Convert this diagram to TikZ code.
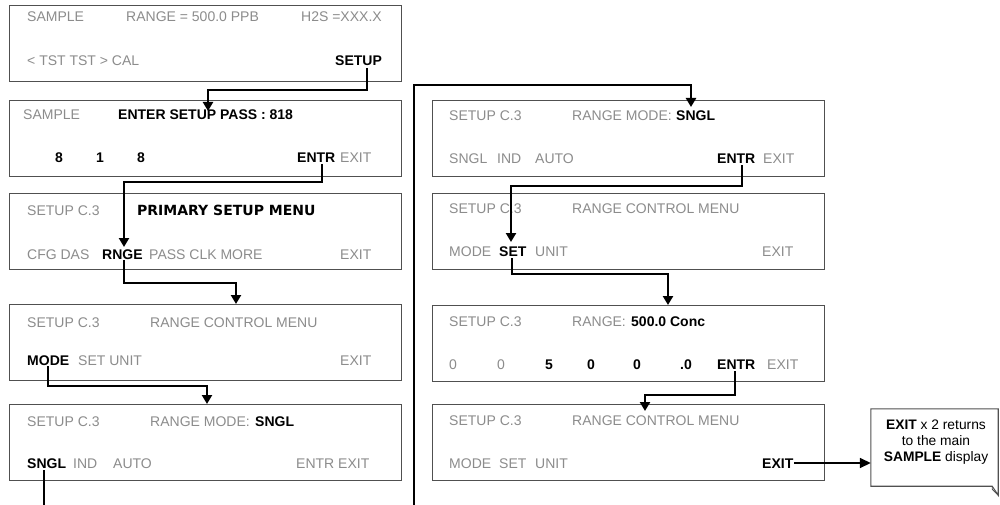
\documentclass[tikz,border=0pt]{standalone}
\usepackage{fontspec}
\setmainfont{Liberation Sans}
\newfontfamily\dvbold{DejaVu Sans}
\usetikzlibrary{arrows.meta}
\definecolor{tg}{RGB}{140,140,140}
\definecolor{bx}{RGB}{80,80,80}
\begin{document}
\begin{tikzpicture}[x=1pt,y=-1pt,
  font=\fontsize{14}{16}\selectfont,
  scr/.style={draw=bx, line width=1.1pt, anchor=north west, minimum width=392pt, minimum height=76pt, inner sep=0pt},
  g/.style={anchor=base west, inner sep=0pt, text=tg},
  b/.style={anchor=base west, inner sep=0pt, text=black, font=\fontsize{14}{16}\selectfont\bfseries},
  conn/.style={line width=2.6pt, -{Triangle[length=9pt,width=10pt]}},
  line/.style={line width=2.6pt}
]
\clip (0,0) rectangle (1000,505);
\fill[white] (0,0) rectangle (1000,505);

% ---------- left column screens ----------
\node[scr] (L1) at (9,5) {};
\node[scr] (L2) at (9,100) {};
\node[scr] (L3) at (9,193) {};
\node[scr] (L4) at (9,304) {};
\node[scr] (L5) at (9,404) {};
% ---------- right column screens ----------
\node[scr] (R1) at (432,100) {};
\node[scr] (R2) at (432,193) {};
\node[scr] (R3) at (432,305) {};
\node[scr] (R4) at (432,404) {};

% ---------- L1 ----------
\node[g] (l1a) at (27,22) {SAMPLE};
\node[g] (l1b) at (126,22) {RANGE = 500.0 PPB};
\node[g] (l1c) at (301,22) {H2S =XXX.X};
\node[g] (l1d) at (27,66) {< TST TST > CAL};
\node[b] (l1e) at (335,66) {SETUP};
% ---------- L2 ----------
\node[g] (l2a) at (23,120) {SAMPLE};
\node[b] (l2b) at (118,120) {ENTER SETUP PASS : 818};
\node[b] (l2c) at (55,163) {8};
\node[b] (l2d) at (96,163) {1};
\node[b] (l2e) at (137,163) {8};
\node[b] (l2f) at (297,163) {ENTR};
\node[g] (l2g) at (340,163) {EXIT};
% ---------- L3 ----------
\node[g] (l3a) at (27,215) {SETUP C.3};
\node[anchor=base west, inner sep=0pt, font=\fontsize{14}{16}\dvbold\bfseries] (l3b) at (137,215) {PRIMARY SETUP MENU};
\node[g] (l3c) at (27,259) {CFG DAS};
\node[b] (l3d) at (102,259) {RNGE};
\node[g] (l3e) at (149,259) {PASS CLK MORE};
\node[g] (l3f) at (340,259) {EXIT};
% ---------- L4 ----------
\node[g] (l4a) at (27,327) {SETUP C.3};
\node[g] (l4b) at (150,327) {RANGE CONTROL MENU};
\node[b] (l4c) at (27,365) {MODE};
\node[g] (l4d) at (78,365) {SET UNIT};
\node[g] (l4e) at (340,365) {EXIT};
% ---------- L5 ----------
\node[g] (l5a) at (27,426) {SETUP C.3};
\node[g] (l5b) at (150,426) {RANGE MODE:};
\node[b] (l5c) at (255,426) {SNGL};
\node[b] (l5d) at (27,468) {SNGL};
\node[g] (l5e) at (73,468) {IND};
\node[g] (l5f) at (113,468) {AUTO};
\node[g] (l5g) at (296,468) {ENTR EXIT};

% ---------- R1 ----------
\node[g] (r1a) at (449,121) {SETUP C.3};
\node[g] (r1b) at (572,121) {RANGE MODE:};
\node[b] (r1c) at (676,121) {SNGL};
\node[g] (r1d) at (449,164) {SNGL};
\node[g] (r1e) at (497,164) {IND};
\node[g] (r1f) at (535,164) {AUTO};
\node[b] (r1g) at (717,164) {ENTR};
\node[g] (r1h) at (763,164) {EXIT};
% ---------- R2 ----------
\node[g] (r2a) at (449,213) {SETUP C.3};
\node[g] (r2b) at (572,213) {RANGE CONTROL MENU};
\node[g] (r2c) at (449,256) {MODE};
\node[b] (r2d) at (499,256) {SET};
\node[g] (r2e) at (535,256) {UNIT};
\node[g] (r2f) at (762,256) {EXIT};
% ---------- R3 ----------
\node[g] (r3a) at (449,326) {SETUP C.3};
\node[g] (r3b) at (572,326) {RANGE:};
\node[b] (r3c) at (631,326) {500.0 Conc};
\node[g] (r3d) at (449,369) {0};
\node[g] (r3e) at (497,369) {0};
\node[b] (r3f) at (545,369) {5};
\node[b] (r3g) at (587,369) {0};
\node[b] (r3h) at (633,369) {0};
\node[b] (r3i) at (680,369) {.0};
\node[b] (r3j) at (717,369) {ENTR};
\node[g] (r3k) at (767,369) {EXIT};
% ---------- R4 ----------
\node[g] (r4a) at (449,425) {SETUP C.3};
\node[g] (r4b) at (572,425) {RANGE CONTROL MENU};
\node[g] (r4c) at (449,468) {MODE};
\node[g] (r4d) at (499,468) {SET};
\node[g] (r4e) at (535,468) {UNIT};
\node[b] (r4f) at (762,468) {EXIT};

% ---------- note ----------
\node[minimum width=127pt, minimum height=77pt, inner sep=0pt] (note) at (934.5,447.5) {};
\draw[bx, line width=1.1pt] (note.north west) -- (note.north east) -- ([yshift=-9pt]note.south east)
  -- ([xshift=-6pt]note.south east) -- (note.south west) -- cycle;
\draw[bx, line width=0.8pt] ([yshift=-9pt]note.south east) -- ([xshift=-6pt,yshift=-3pt]note.south east) -- ([xshift=-6pt]note.south east);
\node[align=center, inner sep=0pt, font=\fontsize{13.8}{16}\selectfont] (notetext) at (936,442)
  {\textbf{EXIT} x 2 returns\\to the main\\\textbf{SAMPLE} display};

% ---------- connectors ----------
\coordinate (c1s) at (367,68);
\coordinate (c1e) at (208,111);
\draw[conn] (c1s) -- (367,90) -| (c1e);

\coordinate (c2s) at (322,164);
\coordinate (c2e) at (124,247);
\draw[conn] (c2s) -- (322,182) -| (c2e);

\coordinate (c3s) at (124,260);
\coordinate (c3e) at (236,304);
\draw[conn] (c3s) -- (124,283) -| (c3e);

\coordinate (c4s) at (48,366);
\coordinate (c4e) at (207,404);
\draw[conn] (c4s) -- (48,386) -| (c4e);

\coordinate (c5s) at (44,470);
\coordinate (c5e) at (691,107);
\draw[conn] (c5s) -- (44,530) -- (414,530) -- (414,85) -| (c5e);

\coordinate (c6s) at (742,165);
\coordinate (c6e) at (511,242);
\draw[conn] (c6s) -- (742,186) -| (c6e);

\coordinate (c7s) at (512,258);
\coordinate (c7e) at (668,305);
\draw[conn] (c7s) -- (512,274) -| (c7e);

\coordinate (c8s) at (735,371);
\coordinate (c8e) at (645,411);
\draw[conn] (c8s) -- (735,395) -| (c8e);

\coordinate (c9s) at (794,463);
\draw[line width=1.6pt, -{Triangle[length=11pt,width=10pt]}] (c9s) -- (note.west |- c9s);
\end{tikzpicture}
\end{document}
